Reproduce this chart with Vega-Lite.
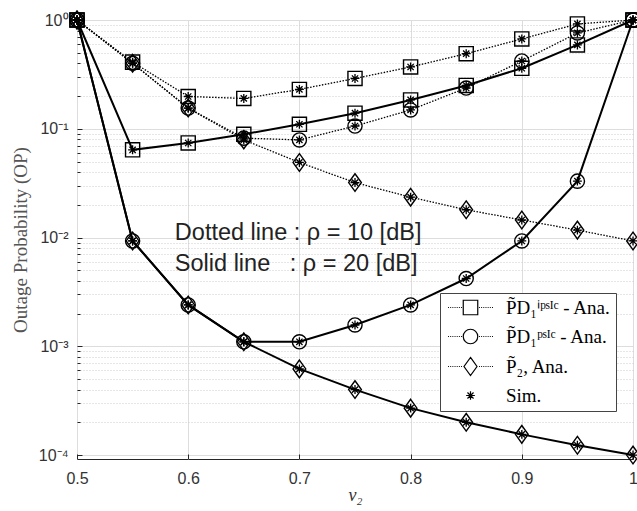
{
  "$schema": "https://vega.github.io/schema/vega-lite/v6.json",
  "width": 556,
  "height": 439,
  "autosize": {"type": "none"},
  "padding": {"left": 77, "top": 20, "right": 4, "bottom": 52},
  "background": "white",
  "config": {
    "view": {"stroke": "#262626", "strokeWidth": 1},
    "axis": {
      "labelFont": "Liberation Sans",
      "labelFontSize": 16,
      "labelColor": "#333333",
      "domain": false,
      "gridColor": "#dddddd",
      "gridWidth": 1,
      "tickColor": "#262626",
      "titleColor": "#555555",
      "titleFont": "Liberation Serif",
      "titleFontWeight": "normal"
    }
  },
  "datasets": {
    "curves": [
      {"nu": 0.5, "op": 1, "rho": "10 dB", "series": "ipSIC"},
      {"nu": 0.55, "op": 0.41, "rho": "10 dB", "series": "ipSIC"},
      {"nu": 0.6, "op": 0.198, "rho": "10 dB", "series": "ipSIC"},
      {"nu": 0.65, "op": 0.19, "rho": "10 dB", "series": "ipSIC"},
      {"nu": 0.7, "op": 0.23, "rho": "10 dB", "series": "ipSIC"},
      {"nu": 0.75, "op": 0.29, "rho": "10 dB", "series": "ipSIC"},
      {"nu": 0.8, "op": 0.37, "rho": "10 dB", "series": "ipSIC"},
      {"nu": 0.85, "op": 0.49, "rho": "10 dB", "series": "ipSIC"},
      {"nu": 0.9, "op": 0.67, "rho": "10 dB", "series": "ipSIC"},
      {"nu": 0.95, "op": 0.92, "rho": "10 dB", "series": "ipSIC"},
      {"nu": 1.0, "op": 1, "rho": "10 dB", "series": "ipSIC"},
      {"nu": 0.5, "op": 1, "rho": "10 dB", "series": "pSIC"},
      {"nu": 0.55, "op": 0.4, "rho": "10 dB", "series": "pSIC"},
      {"nu": 0.6, "op": 0.155, "rho": "10 dB", "series": "pSIC"},
      {"nu": 0.65, "op": 0.082, "rho": "10 dB", "series": "pSIC"},
      {"nu": 0.7, "op": 0.079, "rho": "10 dB", "series": "pSIC"},
      {"nu": 0.75, "op": 0.106, "rho": "10 dB", "series": "pSIC"},
      {"nu": 0.8, "op": 0.149, "rho": "10 dB", "series": "pSIC"},
      {"nu": 0.85, "op": 0.237, "rho": "10 dB", "series": "pSIC"},
      {"nu": 0.9, "op": 0.42, "rho": "10 dB", "series": "pSIC"},
      {"nu": 0.95, "op": 0.76, "rho": "10 dB", "series": "pSIC"},
      {"nu": 1.0, "op": 1, "rho": "10 dB", "series": "pSIC"},
      {"nu": 0.5, "op": 1, "rho": "10 dB", "series": "P2"},
      {"nu": 0.55, "op": 0.4, "rho": "10 dB", "series": "P2"},
      {"nu": 0.6, "op": 0.155, "rho": "10 dB", "series": "P2"},
      {"nu": 0.65, "op": 0.079, "rho": "10 dB", "series": "P2"},
      {"nu": 0.7, "op": 0.049, "rho": "10 dB", "series": "P2"},
      {"nu": 0.75, "op": 0.032, "rho": "10 dB", "series": "P2"},
      {"nu": 0.8, "op": 0.0235, "rho": "10 dB", "series": "P2"},
      {"nu": 0.85, "op": 0.018, "rho": "10 dB", "series": "P2"},
      {"nu": 0.9, "op": 0.0145, "rho": "10 dB", "series": "P2"},
      {"nu": 0.95, "op": 0.0117, "rho": "10 dB", "series": "P2"},
      {"nu": 1.0, "op": 0.0093, "rho": "10 dB", "series": "P2"},
      {"nu": 0.5, "op": 1, "rho": "20 dB", "series": "ipSIC"},
      {"nu": 0.55, "op": 0.064, "rho": "20 dB", "series": "ipSIC"},
      {"nu": 0.6, "op": 0.074, "rho": "20 dB", "series": "ipSIC"},
      {"nu": 0.65, "op": 0.089, "rho": "20 dB", "series": "ipSIC"},
      {"nu": 0.7, "op": 0.11, "rho": "20 dB", "series": "ipSIC"},
      {"nu": 0.75, "op": 0.139, "rho": "20 dB", "series": "ipSIC"},
      {"nu": 0.8, "op": 0.184, "rho": "20 dB", "series": "ipSIC"},
      {"nu": 0.85, "op": 0.25, "rho": "20 dB", "series": "ipSIC"},
      {"nu": 0.9, "op": 0.36, "rho": "20 dB", "series": "ipSIC"},
      {"nu": 0.95, "op": 0.59, "rho": "20 dB", "series": "ipSIC"},
      {"nu": 1.0, "op": 1, "rho": "20 dB", "series": "ipSIC"},
      {"nu": 0.5, "op": 1, "rho": "20 dB", "series": "pSIC"},
      {"nu": 0.55, "op": 0.0093, "rho": "20 dB", "series": "pSIC"},
      {"nu": 0.6, "op": 0.0024, "rho": "20 dB", "series": "pSIC"},
      {"nu": 0.65, "op": 0.0011, "rho": "20 dB", "series": "pSIC"},
      {"nu": 0.7, "op": 0.0011, "rho": "20 dB", "series": "pSIC"},
      {"nu": 0.75, "op": 0.00157, "rho": "20 dB", "series": "pSIC"},
      {"nu": 0.8, "op": 0.0024, "rho": "20 dB", "series": "pSIC"},
      {"nu": 0.85, "op": 0.0042, "rho": "20 dB", "series": "pSIC"},
      {"nu": 0.9, "op": 0.0093, "rho": "20 dB", "series": "pSIC"},
      {"nu": 0.95, "op": 0.033, "rho": "20 dB", "series": "pSIC"},
      {"nu": 1.0, "op": 1, "rho": "20 dB", "series": "pSIC"},
      {"nu": 0.5, "op": 1, "rho": "20 dB", "series": "P2"},
      {"nu": 0.55, "op": 0.0093, "rho": "20 dB", "series": "P2"},
      {"nu": 0.6, "op": 0.0024, "rho": "20 dB", "series": "P2"},
      {"nu": 0.65, "op": 0.0011, "rho": "20 dB", "series": "P2"},
      {"nu": 0.7, "op": 0.00062, "rho": "20 dB", "series": "P2"},
      {"nu": 0.75, "op": 0.0004, "rho": "20 dB", "series": "P2"},
      {"nu": 0.8, "op": 0.00027, "rho": "20 dB", "series": "P2"},
      {"nu": 0.85, "op": 0.0002, "rho": "20 dB", "series": "P2"},
      {"nu": 0.9, "op": 0.000155, "rho": "20 dB", "series": "P2"},
      {"nu": 0.95, "op": 0.000123, "rho": "20 dB", "series": "P2"},
      {"nu": 1.0, "op": 0.0001, "rho": "20 dB", "series": "P2"}
    ],
    "notes": [
      {"nu": 0.588, "op": 0.0095, "label": "Dotted line : ρ = 10 [dB]"},
      {"nu": 0.588, "op": 0.0049, "label": "Solid line\u00a0\u00a0\u00a0: ρ = 20 [dB]"}
    ]
  },
  "encoding": {
    "x": {
      "field": "nu",
      "type": "quantitative",
      "scale": {"domain": [0.5, 1], "nice": false, "zero": false},
      "axis": {
        "title": "ν₂",
        "titleFontStyle": "italic",
        "titleFontSize": 18,
        "titleColor": "#333333",
        "titlePadding": 0,
        "values": [0.5, 0.6, 0.7, 0.8, 0.9, 1.0],
        "labelExpr": "datum.value == 1 ? '1' : format(datum.value, '.1f')",
        "tickSize": -5,
        "labelPadding": 16,
        "labelFlush": false
      }
    },
    "y": {
      "field": "op",
      "type": "quantitative",
      "scale": {"type": "log", "domain": [0.000092, 1], "nice": false},
      "axis": {
        "title": "Outage Probability (OP)",
        "titleFontSize": 19,
        "titlePadding": 8,
        "values": [0.0001, 0.0002, 0.0003, 0.0004, 0.0005, 0.0006, 0.0007, 0.0008, 0.0009, 0.001, 0.002, 0.003, 0.004, 0.005, 0.006, 0.007, 0.008, 0.009, 0.01, 0.02, 0.03, 0.04, 0.05, 0.06, 0.07, 0.08, 0.09, 0.1, 0.2, 0.3, 0.4, 0.5, 0.6, 0.7, 0.8, 0.9, 1],
        "labelExpr": "datum.value == 1 ? '10⁰' : datum.value == 0.1 ? '10⁻¹' : datum.value == 0.01 ? '10⁻²' : datum.value == 0.001 ? '10⁻³' : datum.value == 0.0001 ? '10⁻⁴' : ''",
        "gridDash": {"condition": {"test": "indexof([1, 0.1, 0.01, 0.001, 0.0001], datum.value) >= 0", "value": []}, "value": [1, 2]},
        "gridColor": {"condition": {"test": "indexof([1, 0.1, 0.01, 0.001, 0.0001], datum.value) >= 0", "value": "#dddddd"}, "value": "#cccccc"},
        "tickSize": {"condition": {"test": "indexof([1, 0.1, 0.01, 0.001, 0.0001], datum.value) >= 0", "value": -5}, "value": -3},
        "labelPadding": 14,
        "labelFlush": false,
        "labelOverlap": false
      }
    }
  },
  "layer": [
    {
      "data": {"name": "curves"},
      "transform": [{"filter": "datum.rho == '10 dB'"}],
      "mark": {"type": "line", "color": "black", "strokeWidth": 1.3, "strokeDash": [1.5, 1.5]},
      "encoding": {"detail": {"field": "series"}}
    },
    {
      "data": {"name": "curves"},
      "transform": [{"filter": "datum.rho == '20 dB'"}],
      "mark": {"type": "line", "color": "black", "strokeWidth": 2},
      "encoding": {"detail": {"field": "series"}}
    },
    {
      "data": {"name": "curves"},
      "mark": {"type": "point", "filled": false, "color": "black", "strokeWidth": 1.4, "size": 200, "opacity": 1},
      "encoding": {
        "shape": {
          "field": "series",
          "type": "nominal",
          "scale": {"domain": ["ipSIC", "pSIC", "P2"], "range": ["square", "circle", "M0,-1.25L0.9,0L0,1.25L-0.9,0Z"]},
          "legend": null
        }
      }
    },
    {
      "data": {"name": "curves"},
      "mark": {"type": "point", "filled": false, "color": "black", "strokeWidth": 1.3, "size": 80, "opacity": 1, "shape": "M-1,0L1,0M0,-1L0,1M-0.7,-0.7L0.7,0.7M-0.7,0.7L0.7,-0.7"}
    },
    {
      "data": {"name": "curves"},
      "transform": [{"filter": "datum.nu > 5"}],
      "mark": {"type": "point", "filled": false, "color": "black", "strokeWidth": 1.2, "opacity": 1},
      "encoding": {
        "shape": {
          "field": "legendEntry",
          "type": "nominal",
          "scale": {
            "domain": ["P̃D₁ⁱᵖˢᴵᶜ - Ana.", "P̃D₁ᵖˢᴵᶜ - Ana.", "P̃₂, Ana.", "Sim."],
            "range": [
              "M-3.1,0L-2.97,0M-2.8,0L-2.67,0M-2.5,0L-2.37,0M-2.2,0L-2.07,0M-1.9,0L-1.77,0M-1.6,0L-1.47,0M-1.3,0L-1.17,0M1.17,0L1.3,0M1.47,0L1.6,0M1.77,0L1.9,0M2.07,0L2.2,0M2.37,0L2.5,0M2.67,0L2.8,0M2.97,0L3.1,0M-1,-1L1,-1L1,1L-1,1Z",
              "M-3.1,0L-2.97,0M-2.8,0L-2.67,0M-2.5,0L-2.37,0M-2.2,0L-2.07,0M-1.9,0L-1.77,0M-1.6,0L-1.47,0M-1.3,0L-1.17,0M1.17,0L1.3,0M1.47,0L1.6,0M1.77,0L1.9,0M2.07,0L2.2,0M2.37,0L2.5,0M2.67,0L2.8,0M2.97,0L3.1,0M1,0A1,1 0 1,1 -1,0A1,1 0 1,1 1,0Z",
              "M-3.1,0L-2.97,0M-2.8,0L-2.67,0M-2.5,0L-2.37,0M-2.2,0L-2.07,0M-1.9,0L-1.77,0M-1.6,0L-1.47,0M-1.3,0L-1.17,0M1.17,0L1.3,0M1.47,0L1.6,0M1.77,0L1.9,0M2.07,0L2.2,0M2.37,0L2.5,0M2.67,0L2.8,0M2.97,0L3.1,0M0,-1.25L0.9,0L0,1.25L-0.9,0Z",
              "M-0.6,0L0.6,0M0,-0.6L0,0.6M-0.42,-0.42L0.42,0.42M-0.42,0.42L0.42,-0.42"
            ]
          },
          "legend": {
            "title": null,
            "orient": "none",
            "legendX": 363,
            "legendY": 273,
            "fillColor": "white",
            "strokeColor": "#444444",
            "padding": 5,
            "symbolSize": 210,
            "symbolStrokeWidth": 1.2,
            "symbolStrokeColor": "black",
            "symbolFillColor": "transparent",
            "symbolOffset": 16,
            "labelOffset": 26,
            "labelFont": "Liberation Serif",
            "labelFontSize": 19,
            "labelColor": "black",
            "labelLimit": 300,
            "rowPadding": 8
          }
        }
      }
    },
    {
      "data": {"name": "notes"},
      "mark": {"type": "text", "align": "left", "baseline": "alphabetic", "font": "Liberation Sans", "fontSize": 23.5, "color": "#222222"},
      "encoding": {"text": {"field": "label"}}
    }
  ],
  "resolve": {"scale": {"shape": "independent"}}
}
